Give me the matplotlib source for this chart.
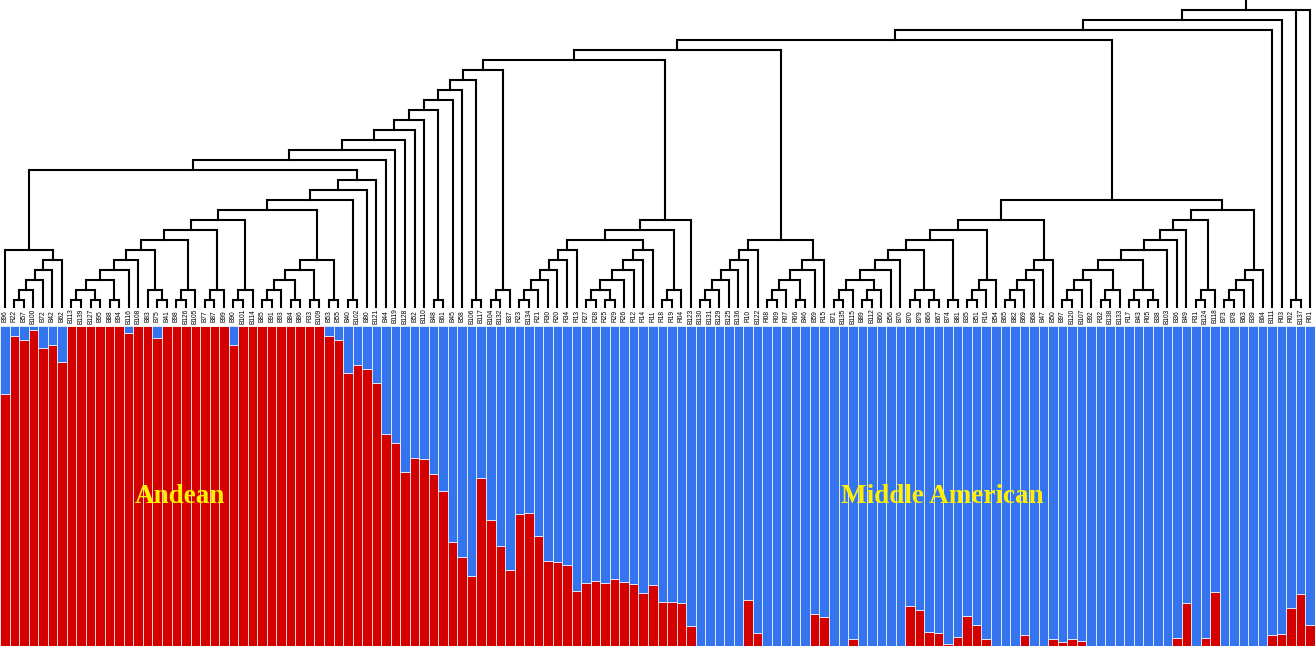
import matplotlib
matplotlib.use("Agg")
import numpy as np
import matplotlib.pyplot as plt

# accessions in dendrogram order
leaf_names = [
    'B96', 'R22', 'B57', 'B100', 'B72', 'B42', 'B62',
    'B113', 'B139', 'B127', 'B95', 'B88', 'B94', 'B116', 'B108', 'B83', 'B75',
    'B41', 'B98', 'B126', 'B105', 'B77', 'B87', 'B99', 'B90', 'B101', 'B114',
    'B85', 'B91', 'B93', 'B84', 'B86', 'R33', 'B109', 'B53', 'B55', 'B40',
    'B102', 'B80', 'B121',
    'B44', 'B119', 'B128', 'B52', 'B110', 'B48', 'B61', 'B45', 'B58', 'B106',
    'B117', 'B104', 'B132', 'B37',
    'R23', 'B134', 'R21', 'R30', 'R20', 'R34', 'R13', 'R27', 'R28', 'R25',
    'R29', 'R26', 'R12', 'R14', 'R11', 'R18', 'R19', 'R04', 'B123',
    'B130', 'B131', 'B129', 'B125', 'B136', 'R10', 'B122', 'R08', 'R09', 'R07',
    'R06', 'B46', 'B59', 'R15',
    'B71', 'B135', 'B115', 'B89', 'B112', 'B60', 'B56', 'B76', 'B70', 'B79',
    'B66', 'B67', 'B74', 'B81', 'B35', 'B51', 'R16', 'B54', 'B65', 'B82',
    'B69', 'B68', 'B47', 'B50',
    'B97', 'B120', 'B107', 'B92', 'R32', 'B138', 'B133', 'R17', 'B43', 'R05',
    'B38', 'B103', 'B36', 'B49', 'R31', 'B124', 'B118', 'B73', 'B78', 'B63',
    'B39', 'B64',
    'B111', 'R03', 'R02', 'B137', 'R01',
]

# membership in the Andean gene pool (K=2), same order
andean = [
    0.789, 0.970, 0.957, 0.987, 0.930, 0.940, 0.886,
    1.0, 1.0, 1.0, 1.0, 1.0, 1.0, 0.978, 1.0, 1.0, 0.962,
    1.0, 1.0, 1.0, 1.0, 1.0, 1.0, 1.0, 0.940, 1.0, 1.0,
    1.0, 1.0, 1.0, 1.0, 1.0, 1.0, 1.0, 0.970, 0.956, 0.854,
    0.878, 0.866, 0.821,
    0.664, 0.634, 0.543, 0.586, 0.583, 0.537, 0.484, 0.324, 0.279, 0.220,
    0.525, 0.395, 0.313, 0.238,
    0.413, 0.416, 0.345, 0.266, 0.263, 0.254, 0.172, 0.198, 0.202, 0.196,
    0.210, 0.200, 0.194, 0.165, 0.191, 0.139, 0.139, 0.134, 0.064,
    0.0, 0.0, 0.0, 0.0, 0.0, 0.143, 0.042, 0.0, 0.0, 0.0,
    0.0, 0.0, 0.099, 0.092,
    0.0, 0.0, 0.021, 0.0, 0.0, 0.0, 0.0, 0.0, 0.126, 0.112,
    0.045, 0.040, 0.006, 0.027, 0.095, 0.065, 0.021, 0.0, 0.0, 0.0,
    0.034, 0.0, 0.0, 0.023,
    0.013, 0.021, 0.015, 0.0, 0.0, 0.0, 0.0, 0.0, 0.0, 0.0,
    0.0, 0.0, 0.024, 0.134, 0.0, 0.026, 0.168, 0.0, 0.0, 0.0,
    0.0, 0.0,
    0.034, 0.038, 0.118, 0.163, 0.065,
]

pool_names = ['Andean', 'Middle American']
pool_colors = ['#D40000', '#3474EE']


def chain(first, *rest):
    # ladder-like clade: each item joins everything to its left
    node = first
    for r in rest:
        node = (node, r)
    return node


# tree topology
grp_a = ('B96', chain('R22', 'B57', 'B100', 'B72', 'B42', 'B62'))
grp_c = chain(chain('B85', 'B91', 'B93'), ('B84', 'B86'), ('R33', 'B109'), ('B53', 'B55'))
grp_b = chain((('B113', 'B139'), ('B127', 'B95')), ('B88', 'B94'), 'B116', 'B108',
              ('B83', ('B75', 'B41')), (('B98', 'B126'), 'B105'),
              (('B77', 'B87'), 'B99'), (('B90', 'B101'), 'B114'),
              grp_c, ('B40', 'B102'), 'B80', 'B121')
andean_side = chain((grp_a, grp_b), 'B44', 'B119', 'B128', 'B52', 'B110',
                    ('B48', 'B61'), 'B45', 'B58', ('B106', 'B117'),
                    chain('B104', 'B132', 'B37'))
grp_r = chain((chain('R23', 'B134', 'R21', 'R30', 'R20', 'R34', 'R13'),
               (chain(('R27', 'R28'), ('R25', 'R29'), 'R26', 'R12', 'R14'), 'R11')),
              chain('R18', 'R19', 'R04'), 'B123')
grp_s = (chain('B130', 'B131', 'B129', 'B125', 'B136', 'R10', 'B122'),
         chain('R08', 'R09', 'R07', ('R06', 'B46'), 'B59', 'R15'))
grp_m = chain((chain('B71', 'B135', 'B115'), chain('B89', 'B112', 'B60')),
              'B56', 'B76', (('B70', 'B79'), ('B66', 'B67')), ('B74', 'B81'),
              chain('B35', 'B51', 'R16', 'B54'),
              chain('B65', 'B82', 'B69', 'B68', 'B47', 'B50'))
grp_p = chain(chain('B97', 'B120', 'B107', 'B92'), chain('R32', 'B138', 'B133'),
              (('R17', 'B43'), ('R05', 'B38')), 'B103', 'B36', 'B49',
              chain('R31', 'B124', 'B118'),
              chain('B73', 'B78', 'B63', 'B39', 'B64'))
tree = (chain(((andean_side, grp_r), grp_s), (grp_m, grp_p), 'B111', 'R03'),
        ('R02', 'B137'), 'R01')

n = len(leaf_names)
x = np.arange(n) + 0.5
pos = dict(zip(leaf_names, x))
leaf_base = 0.3

fig = plt.figure(figsize=(13.15, 6.46), dpi=100)
ax_tree = fig.add_axes([0, 1 - 307 / 646, 1, 307 / 646])
ax_bar = fig.add_axes([0, 0, 1, 320 / 646])


def draw_clade(ax, node):
    # returns (x, depth); clades are drawn at the depth of their deepest branch + 1
    if isinstance(node, str):
        return pos[node], 0
    kids = [draw_clade(ax, k) for k in node]
    lvl = 1 + max(d for _, d in kids)
    ys = [max(d, leaf_base) for _, d in kids]
    x0, x1 = kids[0][0], kids[-1][0]
    ax.plot([x0, x0, x1, x1], [ys[0], lvl, lvl, ys[-1]], color='black', lw=1.5,
            solid_joinstyle='miter', clip_on=False)
    for (xk, _), yk in zip(kids[1:-1], ys[1:-1]):
        ax.plot([xk, xk], [yk, lvl], color='black', lw=1.5, clip_on=False)
    return (x0 + x1) / 2, lvl


root_x, root_lvl = draw_clade(ax_tree, tree)
ax_tree.plot([root_x, root_x], [root_lvl, root_lvl + 1], color='black', lw=1.5)
ax_tree.set_xlim(0, n)
ax_tree.set_ylim(leaf_base, root_lvl + 1)
ax_tree.axis('off')

# structure bars
vals = np.array(andean)
sep = (1, 1, 1, 0.7)
ax_bar.bar(x, vals, width=1.0, color=pool_colors[0], edgecolor=sep, linewidth=0.7)
ax_bar.bar(x, 1 - vals, bottom=vals, width=1.0, color=pool_colors[1],
           edgecolor=sep, linewidth=0.7)
ax_bar.set_xlim(0, n)
ax_bar.set_ylim(0, 1)
ax_bar.axis('off')

lab_tr = ax_bar.get_xaxis_transform()
for xi, name in zip(x, leaf_names):
    ax_bar.text(xi, 1.031, name, rotation=90, ha='center', va='center',
                fontsize=4.8, family='Liberation Sans', transform=lab_tr)

ax_bar.text(18.9, 0.466, pool_names[0], ha='center', va='center', fontsize=19.5,
            family='Liberation Serif', weight='bold', color='#FFF000')
ax_bar.text(98.9, 0.466, pool_names[1], ha='center', va='center', fontsize=19.5,
            family='Liberation Serif', weight='bold', color='#FFF000')

fig.savefig('out.png', dpi=100)
